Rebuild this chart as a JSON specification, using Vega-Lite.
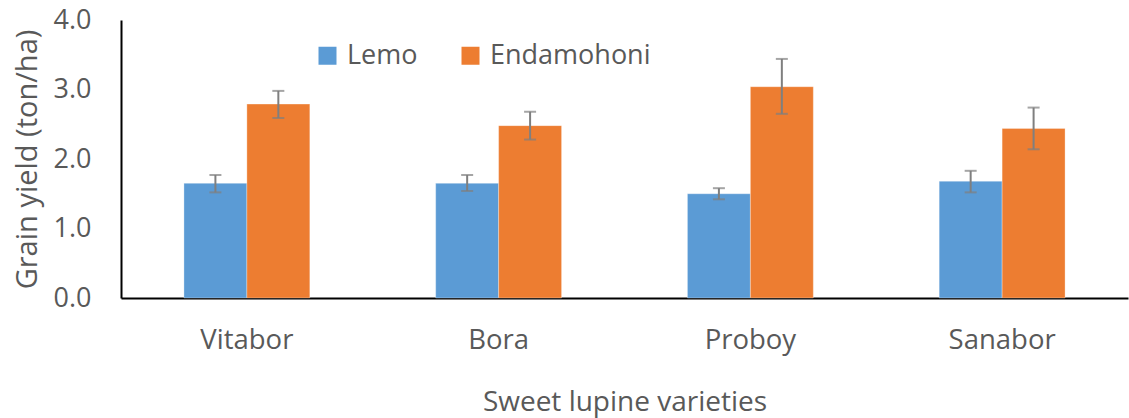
{
  "$schema": "https://vega.github.io/schema/vega-lite/v6.json",
  "autosize": "none",
  "width": 1007,
  "height": 278,
  "padding": {"left": 121, "top": 20, "right": 1, "bottom": 120},
  "background": "white",
  "config": {
    "font": "Open Sans",
    "view": {"stroke": null},
    "axis": {"grid": false, "ticks": false, "domainColor": "#000000", "domainWidth": 2, "labelColor": "#595959", "titleColor": "#595959", "titleFontWeight": "normal", "labelFont": "Open Sans", "titleFont": "Open Sans"},
    "legend": {"labelColor": "#595959", "labelFont": "Open Sans"}
  },
  "data": {
    "values": [
      {"variety": "Vitabor", "cultivar": "Lemo", "yield": 1.65, "lo": 1.52, "hi": 1.77},
      {"variety": "Vitabor", "cultivar": "Endamohoni", "yield": 2.79, "lo": 2.59, "hi": 2.98},
      {"variety": "Bora", "cultivar": "Lemo", "yield": 1.65, "lo": 1.54, "hi": 1.77},
      {"variety": "Bora", "cultivar": "Endamohoni", "yield": 2.48, "lo": 2.28, "hi": 2.68},
      {"variety": "Proboy", "cultivar": "Lemo", "yield": 1.5, "lo": 1.42, "hi": 1.58},
      {"variety": "Proboy", "cultivar": "Endamohoni", "yield": 3.04, "lo": 2.65, "hi": 3.44},
      {"variety": "Sanabor", "cultivar": "Lemo", "yield": 1.68, "lo": 1.52, "hi": 1.83},
      {"variety": "Sanabor", "cultivar": "Endamohoni", "yield": 2.44, "lo": 2.14, "hi": 2.74}
    ]
  },
  "encoding": {
    "x": {
      "field": "variety", "type": "nominal", "sort": ["Vitabor", "Bora", "Proboy", "Sanabor"],
      "scale": {"paddingInner": 0.5, "paddingOuter": 0.25},
      "axis": {"labelAngle": 0, "labelFontSize": 27.5, "labelPadding": 28, "title": "Sweet lupine varieties", "titleFontSize": 28, "titlePadding": 35}
    },
    "xOffset": {"field": "cultivar", "type": "nominal", "sort": ["Lemo", "Endamohoni"]}
  },
  "layer": [
    {
      "mark": {"type": "bar", "stroke": "white", "strokeWidth": 0.5, "strokeOpacity": 0.6},
      "encoding": {
        "y": {
          "field": "yield", "type": "quantitative",
          "scale": {"domain": [0, 4]},
          "axis": {"values": [0, 1, 2, 3, 4], "format": ".1f", "labelFontSize": 27, "labelPadding": 30, "title": "Grain yield (ton/ha)", "titleFontSize": 29, "titlePadding": 11}
        },
        "color": {
          "field": "cultivar", "type": "nominal", "sort": ["Lemo", "Endamohoni"],
          "scale": {"domain": ["Lemo", "Endamohoni"], "range": ["#5B9BD5", "#ED7D31"]},
          "legend": {"title": null, "orient": "none", "legendX": 193, "legendY": 22, "direction": "horizontal", "symbolType": "square", "symbolSize": 324, "symbolStrokeWidth": 0, "labelFontSize": 27, "labelLimit": 400, "columnPadding": 39, "labelOffset": 6}
        }
      }
    },
    {
      "mark": {"type": "rule", "color": "#7F7F7F", "strokeWidth": 2},
      "encoding": {"y": {"field": "lo", "type": "quantitative"}, "y2": {"field": "hi"}}
    },
    {
      "mark": {"type": "tick", "color": "#7F7F7F", "thickness": 2, "size": 12, "orient": "horizontal"},
      "encoding": {"y": {"field": "lo", "type": "quantitative"}}
    },
    {
      "mark": {"type": "tick", "color": "#7F7F7F", "thickness": 2, "size": 12, "orient": "horizontal"},
      "encoding": {"y": {"field": "hi", "type": "quantitative"}}
    }
  ]
}
